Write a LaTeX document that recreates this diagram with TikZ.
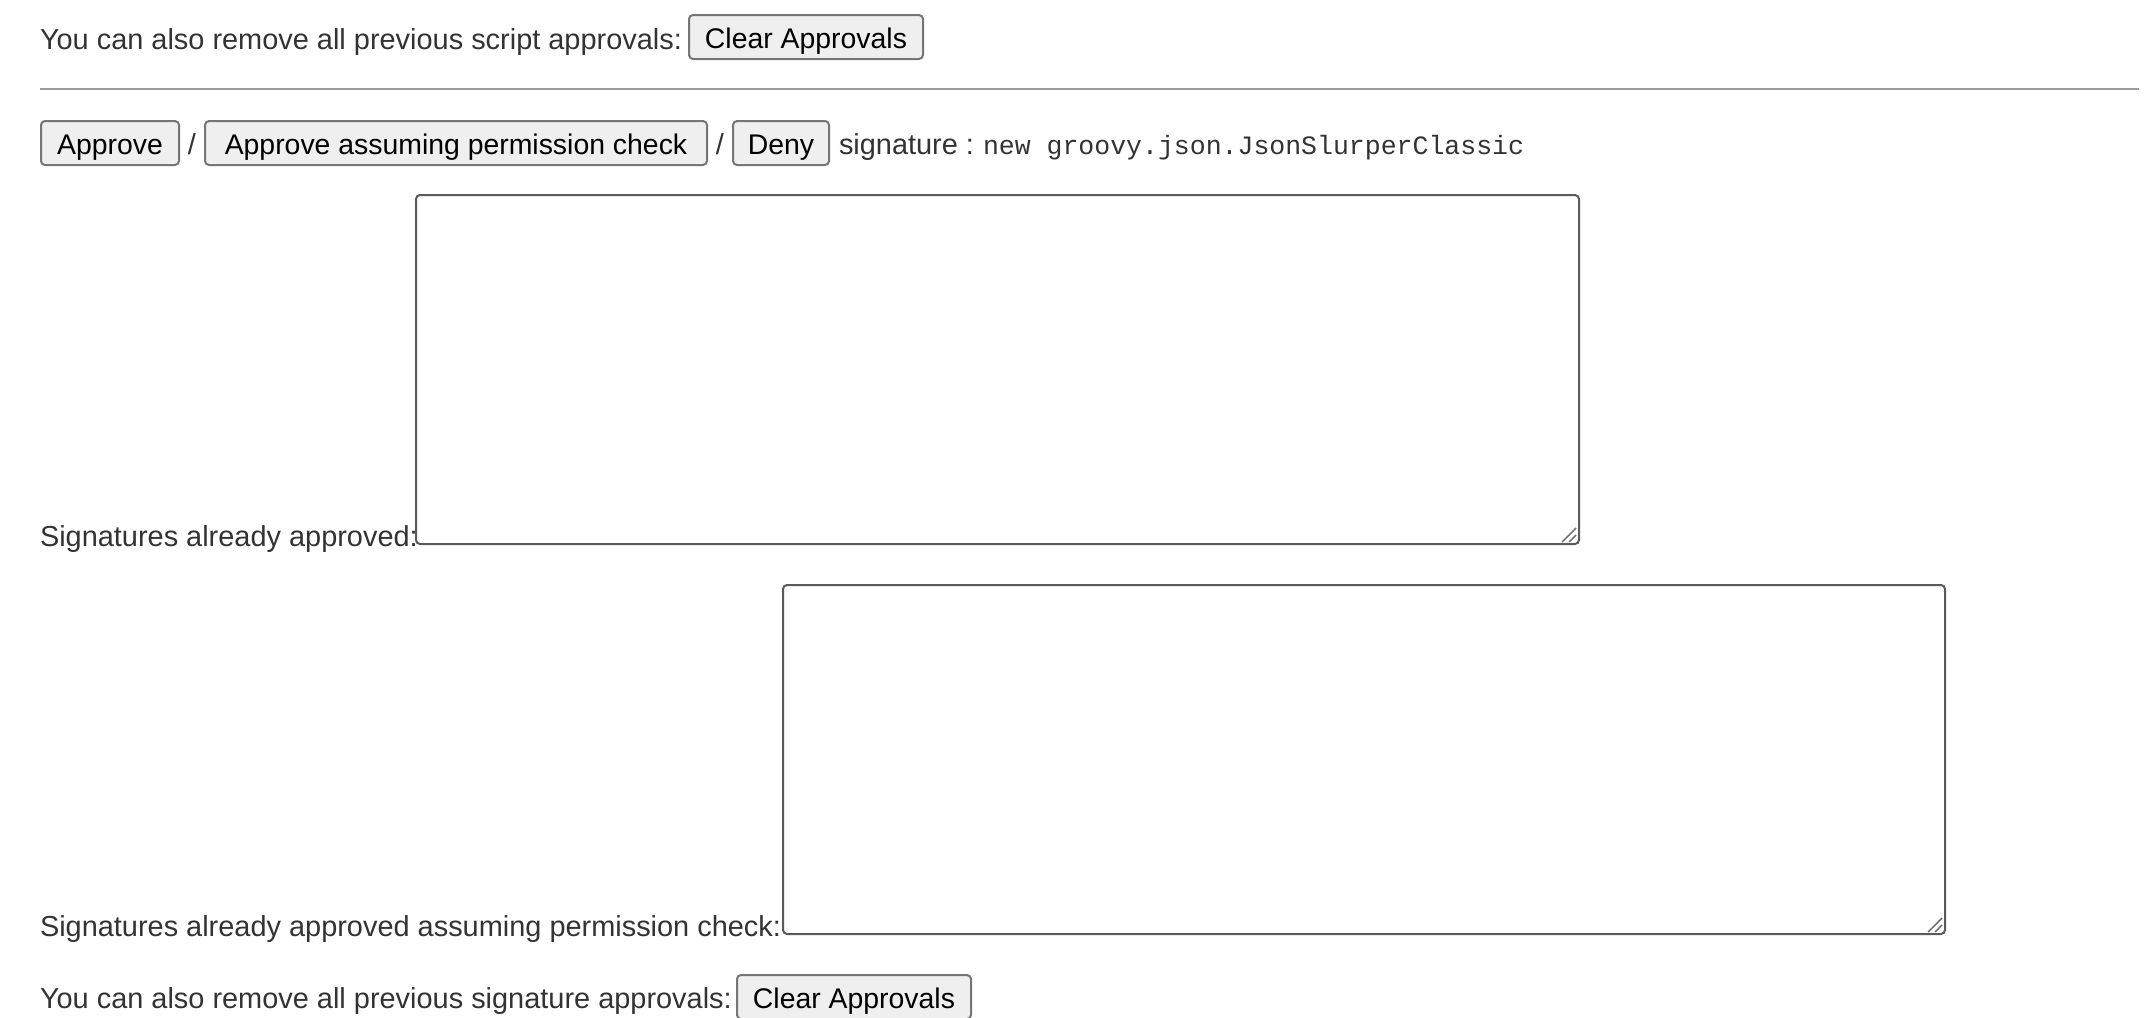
\documentclass[tikz,border=0pt]{standalone}
\usepackage{fontspec}
\setmainfont{Liberation Sans}
\setmonofont{Liberation Mono}
\definecolor{labelc}{HTML}{333333}
\definecolor{btnfill}{HTML}{EFEFEF}
\definecolor{btnborder}{HTML}{767676}
\definecolor{areaborder}{HTML}{5A5A5A}
\definecolor{rulec}{HTML}{9A9A9A}
\definecolor{gripc}{HTML}{6A6A6A}
\tikzset{
  lbl/.style={anchor=base west, inner sep=0pt, outer sep=0pt, text=labelc, font=\fontsize{14.46pt}{17pt}\selectfont},
  mono/.style={anchor=base west, inner sep=0pt, outer sep=0pt, text=labelc, font=\ttfamily\fontsize{13.26pt}{16pt}\selectfont},
  btn/.style={draw=btnborder, fill=btnfill, line width=1pt, rounded corners=2pt, inner sep=0pt,
    minimum height=22pt, text height=11pt, text depth=0pt, text=black, font=\fontsize{14.2pt}{17pt}\selectfont},
  tarea/.style={draw=areaborder, line width=1pt, rounded corners=2pt, inner sep=0pt, outer sep=0pt, anchor=north west},
  grip/.style={draw=gripc, line width=0.7pt},
  sep/.style={anchor=base, inner sep=0pt, text=labelc, font=\fontsize{14.46pt}{17pt}\selectfont}
}
\begin{document}
\begin{tikzpicture}[x=0.5pt, y=-0.5pt]
\useasboundingbox[fill=white] (0,0) rectangle (2154,1018);
% row 1
\node[lbl] (t1) at (40,49) {You can also remove all previous script approvals:};
\node[btn, minimum width=117pt] (clr1) at (806,37) {Clear Approvals};
% rule
\coordinate (r1) at (40,89);
\coordinate (r2) at (2139,89);
\draw[rulec, line width=1pt] (r1) -- (r2);
% row 2
\node[btn, minimum width=69pt] (appr) at (110,143) {Approve};
\node[sep] (s1) at (192,154) {/};
\node[btn, minimum width=251pt] (aapc) at (456,143) {Approve assuming permission check};
\node[sep] (s2) at (720,154) {/};
\node[btn, minimum width=48pt] (deny) at (781,143) {Deny};
\node[lbl] (sig) at (839,154) {signature :};
\node[mono] (sigv) at (983,154) {new groovy.json.JsonSlurperClassic};
% textarea 1
\node[tarea, minimum width=581.5pt, minimum height=174.5pt] (ta1) at (416,195) {};
\node[lbl] (l1) at (40,546) {Signatures already approved:};
\draw[grip] ([shift={(-17,-2)}]ta1.south east) -- ([shift={(-3,-16)}]ta1.south east);
\draw[grip] ([shift={(-10,-2)}]ta1.south east) -- ([shift={(-3,-9)}]ta1.south east);
% textarea 2
\node[tarea, minimum width=581pt, minimum height=174.5pt] (ta2) at (783,585) {};
\node[lbl] (l2) at (40,936) {Signatures already approved assuming permission check:};
\draw[grip] ([shift={(-17,-2)}]ta2.south east) -- ([shift={(-3,-16)}]ta2.south east);
\draw[grip] ([shift={(-10,-2)}]ta2.south east) -- ([shift={(-3,-9)}]ta2.south east);
% bottom row
\node[lbl] (t2) at (40,1008) {You can also remove all previous signature approvals:};
\node[btn, minimum width=117pt] (clr2) at (854,997) {Clear Approvals};
\end{tikzpicture}
\end{document}
